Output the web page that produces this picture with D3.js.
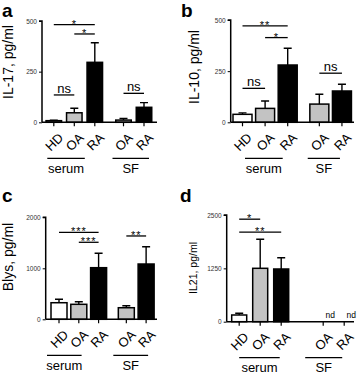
<!DOCTYPE html>
<html>
<head>
<meta charset="utf-8">
<script src="https://cdn.jsdelivr.net/npm/d3@7"></script>
<style>
  body { margin: 0; background: #fff; }
  svg { display: block; font-family: 'Liberation Sans', Arial, sans-serif; }
</style>
</head>
<body>
<svg id="graph"></svg>
<script>
// categories
const cats = ['HD', 'OA', 'RA', 'OA', 'RA']
const groups = ['serum', 'serum', 'serum', 'SF', 'SF']
const fills = ['#ffffff', '#c3c3c3', '#000000', '#c3c3c3', '#000000']

// series (mean, upper error)
const il17Mean = [8, 47, 296, 11, 74]
const il17Err = [10, 69, 393, 19, 97]
const il10Mean = [39, 68, 280, 89, 153]
const il10Err = [46, 104, 362, 137, 186]
const blysMean = [325, 294, 1012, 227, 1084]
const blysErr = [392, 345, 1294, 267, 1424]
const il21Mean = [157, 1251, 1235, null, null]
const il21Err = [197, 1931, 1500, null, null]

// y tick labels
const ticks17 = [0, 250, 500]
const ticks10 = [0, 250, 500]
const ticksBlys = [0, 1000, 2000]
const ticks21 = [0, 1250, 2500]

// significance brackets: [from, to, label, height]
const sig17 = [[0, 2, '*', 482], [1, 2, '*', 436], [0, 1, 'ns', 135], [3, 4, 'ns', 143]]
const sig10 = [[0, 2, '**', 471], [1, 2, '*', 414], [0, 1, 'ns', 166], [3, 4, 'ns', 240]]
const sigBlys = [[0, 2, '***', 1706], [1, 2, '***', 1510], [3, 4, '**', 1634]]
const sig21 = [[0, 1, '*', 2402], [0, 2, '**', 2097]]

const svg = d3.select('#graph').attr('width', 358).attr('height', 374)

const drawPanel = (cfg) => {
  const g = svg.append('g')
  const yScale = d3.scaleLinear().domain([0, cfg.ticks[2]]).range([cfg.y0, cfg.yTop])
  const pos = [0, 1, 2, cfg.gap, cfg.gap + 1]
  const xScale = d3.scaleLinear().domain([0, 1]).range([cfg.x0, cfg.x0 + cfg.step])
  const cx = (i) => xScale(pos[i])
  const bw = cfg.bw

  // letter
  g.append('text')
    .attr('x', cfg.letterX).attr('y', cfg.letterY)
    .style('font-size', '19px').style('font-weight', 'bold')
    .text(cfg.letter)

  // y label
  g.append('text')
    .attr('transform', `translate(${cfg.labelX},${cfg.labelY}) rotate(-90)`)
    .attr('text-anchor', 'middle')
    .style('font-size', cfg.labelSize + 'px')
    .text(cfg.label)

  // bars
  const data = cats.map((c, i) => ({ i, c, v: cfg.mean[i], e: cfg.err[i] }))
  const withVal = data.filter((d) => d.v != null)

  g.selectAll('.err').data(withVal).enter().append('path')
    .attr('fill', 'none').attr('stroke', '#000').attr('stroke-width', 1.4)
    .attr('d', (d) => `M${cx(d.i)},${yScale(d.v)}V${yScale(d.e)}M${cx(d.i) - 4},${yScale(d.e)}H${cx(d.i) + 4}`)

  g.selectAll('.bar').data(withVal).enter().append('rect')
    .attr('x', (d) => cx(d.i) - bw / 2)
    .attr('width', bw)
    .attr('y', (d) => yScale(d.v))
    .attr('height', (d) => yScale(0) - yScale(d.v))
    .attr('fill', (d) => fills[d.i])
    .attr('stroke', '#000').attr('stroke-width', 1.5)

  // axes
  const axisY = d3.axisLeft(yScale).tickValues(cfg.ticks).tickSize(3).tickPadding(2).tickFormat(d3.format('d'))
  const gy = g.append('g').attr('transform', `translate(${cfg.axisX},0)`).call(axisY)
  gy.select('.domain').attr('d', `M-3,${cfg.yTop}H0V${cfg.y0}`).attr('stroke-width', 1.5)
  gy.selectAll('.tick line').attr('stroke-width', 1)
  gy.selectAll('.tick text').style('font-size', '6.5px').style('font-family', 'Liberation Sans, Arial').attr('fill', '#333')

  g.append('line')
    .attr('x1', cfg.axisX).attr('x2', cfg.axisEnd)
    .attr('y1', cfg.y0).attr('y2', cfg.y0)
    .attr('stroke', '#000').attr('stroke-width', 1.5)

  g.selectAll('.xt').data(data).enter().append('line')
    .attr('x1', (d) => cx(d.i)).attr('x2', (d) => cx(d.i))
    .attr('y1', cfg.y0).attr('y2', cfg.y0 + 4)
    .attr('stroke', '#000').attr('stroke-width', 1.2)

  g.selectAll('.xl').data(data).enter().append('text')
    .attr('transform', (d) => `translate(${cx(d.i) + 7},${cfg.y0 + 13}) rotate(-45)`)
    .attr('text-anchor', 'end')
    .attr('dy', '0.35em')
    .style('font-size', '13px')
    .text((d) => d.c)

  // group lines
  const grp = [['serum', 0, 2, cfg.serumLine], ['SF', 3, 4, cfg.sfLine]]
  grp.forEach(([name, a, b, off]) => {
    const x1 = cx(a) + off[0]
    const x2 = cx(b) + off[1]
    g.append('line')
      .attr('x1', x1).attr('x2', x2)
      .attr('y1', cfg.y0 + 36).attr('y2', cfg.y0 + 36)
      .attr('stroke', '#000').attr('stroke-width', 1.3)
    g.append('text')
      .attr('x', (x1 + x2) / 2).attr('y', cfg.y0 + 50.5)
      .attr('text-anchor', 'middle')
      .style('font-size', '13px')
      .text(name)
  })

  // significance
  cfg.sig.forEach(([a, b, lab, h]) => {
    const y = yScale(h)
    g.append('line')
      .attr('x1', cx(a)).attr('x2', cx(b))
      .attr('y1', y).attr('y2', y)
      .attr('stroke', '#000').attr('stroke-width', 1.3)
    const isNs = lab === 'ns'
    g.append('text')
      .attr('x', (cx(a) + cx(b)) / 2)
      .attr('y', isNs ? y - 2 : y + 3)
      .attr('text-anchor', 'middle')
      .style('font-size', isNs ? '13px' : '11px')
      .style('letter-spacing', isNs ? '0px' : '1px')
      .text(lab)
  })

  // not detected
  data.filter((d) => d.v == null).forEach((d) => {
    g.append('text')
      .attr('x', cx(d.i) + 7).attr('y', cfg.y0 - 4)
      .attr('text-anchor', 'middle')
      .style('font-size', '8.5px')
      .text('nd')
  })
}

drawPanel({
  letter: 'a', letterX: 2, letterY: 17,
  label: 'IL-17, pg/ml', labelX: 13, labelY: 62, labelSize: 14,
  mean: il17Mean, err: il17Err, ticks: ticks17, sig: sig17,
  axisX: 42, axisEnd: 157, y0: 122.3, yTop: 21,
  x0: 53.8, step: 20.5, gap: 3.4, bw: 15.5,
  serumLine: [-6.5, -10], sfLine: [-11, 5],
})

drawPanel({
  letter: 'b', letterX: 181, letterY: 17,
  label: 'IL-10, pg/ml', labelX: 199, labelY: 67, labelSize: 14,
  mean: il10Mean, err: il10Err, ticks: ticks10, sig: sig10,
  axisX: 230.7, axisEnd: 354, y0: 122.3, yTop: 20,
  x0: 242.5, step: 22.6, gap: 3.4, bw: 19,
  serumLine: [2.5, -5], sfLine: [-11.6, -2],
})

drawPanel({
  letter: 'c', letterX: 2, letterY: 202,
  label: 'Blys, pg/ml', labelX: 13, labelY: 257, labelSize: 14,
  mean: blysMean, err: blysErr, ticks: ticksBlys, sig: sigBlys,
  axisX: 45.7, axisEnd: 157, y0: 319.3, yTop: 217.3,
  x0: 59, step: 19.8, gap: 3.4, bw: 16,
  serumLine: [-12, -17], sfLine: [-13, 2],
})

drawPanel({
  letter: 'd', letterX: 180, letterY: 202,
  label: 'IL21, pg/ml', labelX: 197, labelY: 268, labelSize: 10.5,
  mean: il21Mean, err: il21Err, ticks: ticks21, sig: sig21,
  axisX: 226.7, axisEnd: 354, y0: 321.7, yTop: 215,
  x0: 239.2, step: 21, gap: 4, bw: 15,
  serumLine: [0, -1.5], sfLine: [-18, -2],
})
</script>
</body>
</html>
